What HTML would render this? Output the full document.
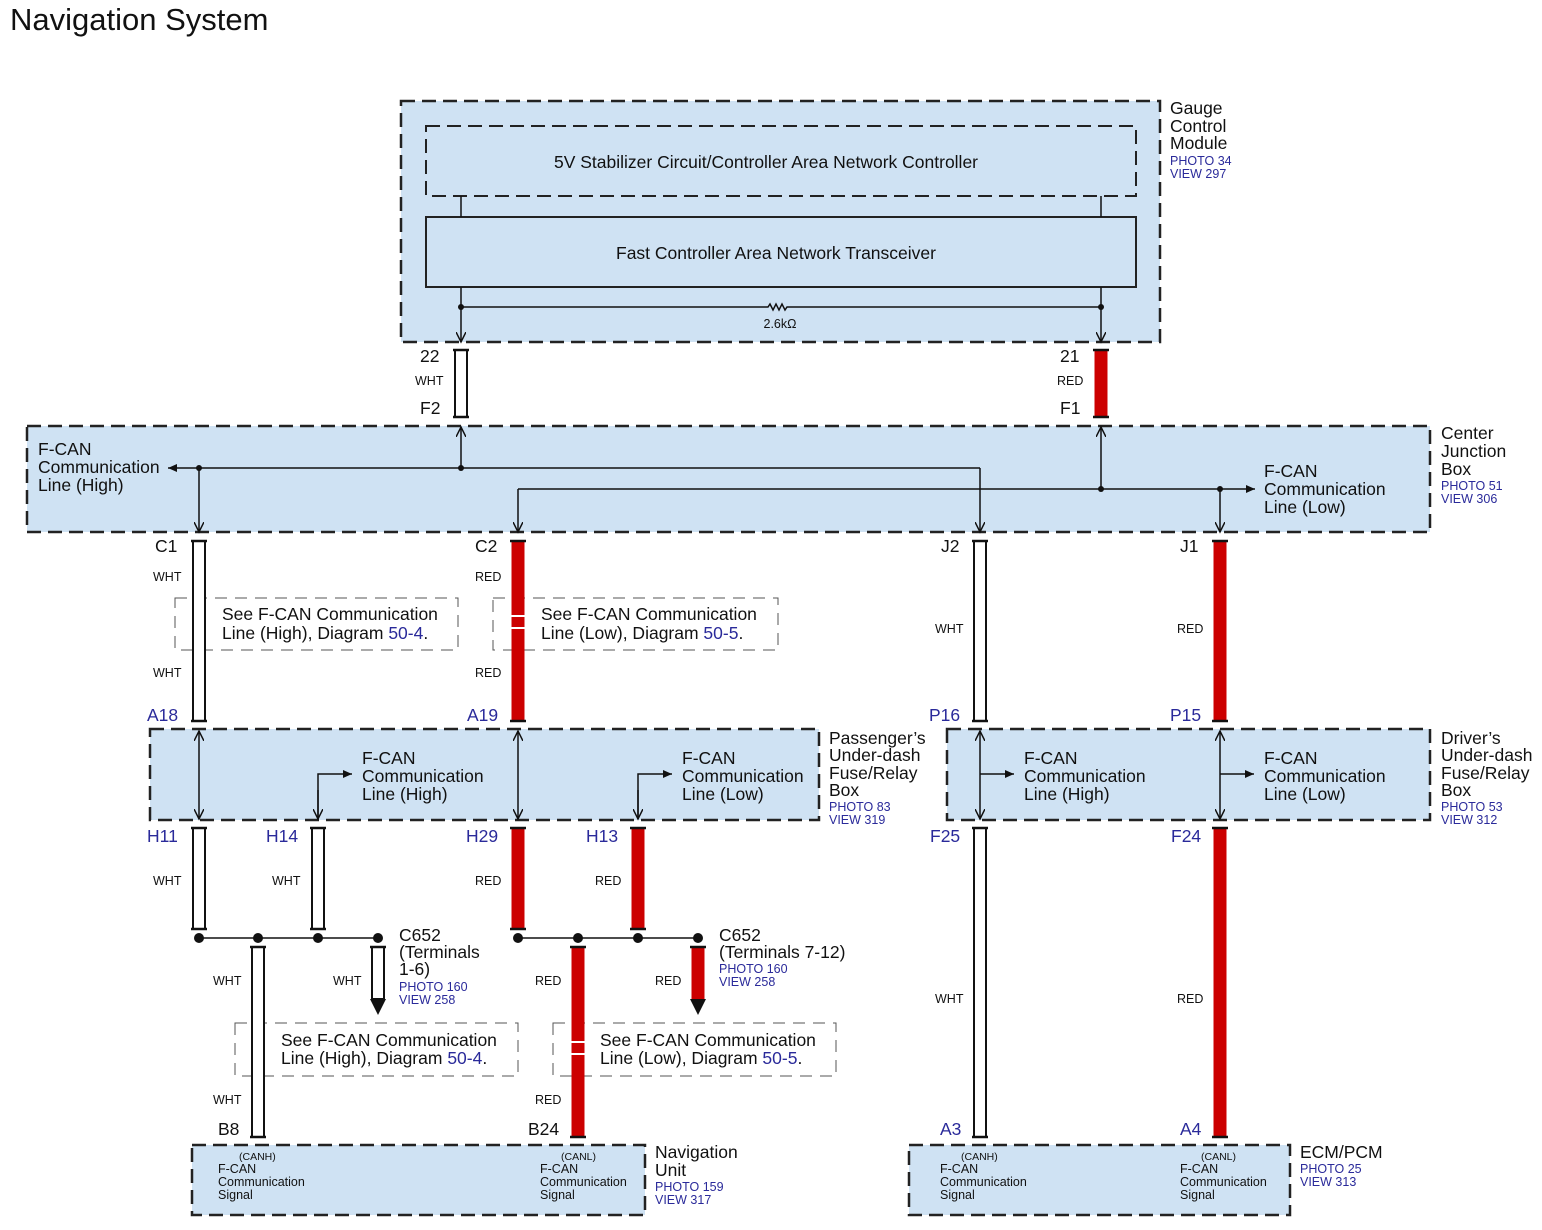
<!DOCTYPE html>
<html><head><meta charset="utf-8"><style>
html,body{margin:0;padding:0;background:#fff}
svg{display:block}
text{font-family:"Liberation Sans",Arial,sans-serif;fill:#111}
.t{font-size:17.5px}
.s{font-size:12.5px}
.b{fill:#2a2a9a}
.box{fill:#cfe2f3;stroke:#222;stroke-width:2.5;stroke-dasharray:14 7}
.note{fill:none;stroke:#555;stroke-width:1;stroke-dasharray:12 8}
.ln{stroke:#111;stroke-width:1.5;fill:none}
.ww{fill:#fff;stroke:#111;stroke-width:2}
.rw{fill:#cc0000;stroke:#cc0000;stroke-width:1}
.cap{stroke:#111;stroke-width:2.5}
</style></head><body>
<svg width="1542" height="1230" viewBox="0 0 1542 1230" xmlns="http://www.w3.org/2000/svg">
<defs>
<marker id="a" markerWidth="10" markerHeight="10" refX="9" refY="5" orient="auto" markerUnits="userSpaceOnUse"><path d="M0,1 L9,5 L0,9 z" fill="#111"/></marker>
<marker id="o" markerWidth="12" markerHeight="10" refX="10" refY="5" orient="auto" markerUnits="userSpaceOnUse"><path d="M0,0 L10,5 L0,10" fill="none" stroke="#111" stroke-width="1.5"/></marker>
</defs>
<text x="10" y="30" style="font-size:31px">Navigation System</text>

<rect class="box" x="401" y="101" width="759" height="241"/>
<rect x="426" y="126" width="710" height="70" fill="none" stroke="#222" stroke-width="2" stroke-dasharray="14 7"/>
<text class="t" x="766" y="168" text-anchor="middle">5V Stabilizer Circuit/Controller Area Network Controller</text>
<rect x="426" y="217" width="710" height="70" fill="none" stroke="#222" stroke-width="2"/>
<text class="t" x="776" y="259" text-anchor="middle">Fast Controller Area Network Transceiver</text>
<line class="ln" x1="461" y1="196" x2="461" y2="217"/><line class="ln" x1="1101" y1="196" x2="1101" y2="217"/>
<line class="ln" x1="461" y1="287" x2="461" y2="342" marker-end="url(#o)"/>
<line class="ln" x1="1101" y1="287" x2="1101" y2="342" marker-end="url(#o)"/>
<path class="ln" d="M461,307 H768 l2,-3 l3,6 l3,-6 l3,6 l3,-6 l3,6 l2,-3 H1101"/>
<circle cx="461" cy="307" r="3" fill="#111"/><circle cx="1101" cy="307" r="3" fill="#111"/>
<text class="s" x="780" y="328" text-anchor="middle">2.6kΩ</text>
<text class="t" x="1170" y="114">Gauge</text><text class="t" x="1170" y="132">Control</text><text class="t" x="1170" y="149">Module</text>
<text class="s b" x="1170" y="165">PHOTO 34</text><text class="s b" x="1170" y="178">VIEW 297</text>

<rect class="ww" x="455" y="350" width="12" height="67"/><line class="cap" x1="453" y1="350" x2="469" y2="350"/><line class="cap" x1="453" y1="417" x2="469" y2="417"/>
<rect class="rw" x="1095" y="350" width="12" height="67"/><line class="cap" x1="1093" y1="350" x2="1109" y2="350"/><line class="cap" x1="1093" y1="417" x2="1109" y2="417"/>
<text class="t" x="420" y="362">22</text><text class="s" x="415" y="385">WHT</text><text class="t" x="420" y="414">F2</text>
<text class="t" x="1060" y="362">21</text><text class="s" x="1057" y="385">RED</text><text class="t" x="1060" y="414">F1</text>

<rect class="box" x="27" y="426" width="1403" height="106"/>
<line class="ln" x1="461" y1="468" x2="461" y2="427" marker-end="url(#o)"/>
<line class="ln" x1="1101" y1="489" x2="1101" y2="427" marker-end="url(#o)"/>
<line class="ln" x1="980" y1="468" x2="168" y2="468" marker-end="url(#a)"/>
<line class="ln" x1="199" y1="468" x2="199" y2="532" marker-end="url(#o)"/>
<line class="ln" x1="980" y1="468" x2="980" y2="532" marker-end="url(#o)"/>
<line class="ln" x1="518" y1="489" x2="1255" y2="489" marker-end="url(#a)"/>
<line class="ln" x1="518" y1="489" x2="518" y2="532" marker-end="url(#o)"/>
<line class="ln" x1="1220" y1="489" x2="1220" y2="532" marker-end="url(#o)"/>
<circle cx="199" cy="468" r="3" fill="#111"/><circle cx="461" cy="468" r="3" fill="#111"/>
<circle cx="1101" cy="489" r="3" fill="#111"/><circle cx="1220" cy="489" r="3" fill="#111"/>
<text class="t" x="38" y="455">F-CAN</text><text class="t" x="38" y="473">Communication</text><text class="t" x="38" y="491">Line (High)</text>
<text class="t" x="1264" y="477">F-CAN</text><text class="t" x="1264" y="495">Communication</text><text class="t" x="1264" y="513">Line (Low)</text>
<text class="t" x="1441" y="439">Center</text><text class="t" x="1441" y="457">Junction</text><text class="t" x="1441" y="475">Box</text>
<text class="s b" x="1441" y="490">PHOTO 51</text><text class="s b" x="1441" y="503">VIEW 306</text>

<rect class="note" x="175" y="598" width="283" height="52"/>
<rect class="note" x="493" y="598" width="285" height="52"/>
<rect class="ww" x="193" y="541" width="12" height="180"/><line class="cap" x1="191" y1="541" x2="207" y2="541"/><line class="cap" x1="191" y1="721" x2="207" y2="721"/>
<rect class="rw" x="512" y="541" width="12" height="180"/><line class="cap" x1="510" y1="541" x2="526" y2="541"/><line class="cap" x1="510" y1="721" x2="526" y2="721"/>
<line x1="510" y1="616" x2="526" y2="616" stroke="#fff" stroke-width="2"/><line x1="510" y1="628" x2="526" y2="628" stroke="#fff" stroke-width="2"/>
<rect class="ww" x="974" y="541" width="12" height="180"/><line class="cap" x1="972" y1="541" x2="988" y2="541"/><line class="cap" x1="972" y1="721" x2="988" y2="721"/>
<rect class="rw" x="1214" y="541" width="12" height="180"/><line class="cap" x1="1212" y1="541" x2="1228" y2="541"/><line class="cap" x1="1212" y1="721" x2="1228" y2="721"/>
<text class="t" x="222" y="620">See F-CAN Communication</text><text class="t" x="222" y="639">Line (High),  Diagram  <tspan class="b">50-4</tspan>.</text>
<text class="t" x="541" y="620">See F-CAN Communication</text><text class="t" x="541" y="639">Line (Low),  Diagram  <tspan class="b">50-5</tspan>.</text>
<text class="t" x="155" y="552">C1</text><text class="s" x="153" y="581">WHT</text><text class="s" x="153" y="677">WHT</text><text class="t b" x="147" y="721">A18</text>
<text class="t" x="475" y="552">C2</text><text class="s" x="475" y="581">RED</text><text class="s" x="475" y="677">RED</text><text class="t b" x="467" y="721">A19</text>
<text class="t" x="941" y="552">J2</text><text class="s" x="935" y="633">WHT</text><text class="t b" x="929" y="721">P16</text>
<text class="t" x="1180" y="552">J1</text><text class="s" x="1177" y="633">RED</text><text class="t b" x="1170" y="721">P15</text>

<rect class="box" x="150" y="729" width="669" height="91"/>
<line class="ln" x1="199" y1="775" x2="199" y2="731" marker-end="url(#o)"/><line class="ln" x1="199" y1="775" x2="199" y2="819" marker-end="url(#o)"/>
<line class="ln" x1="518" y1="775" x2="518" y2="731" marker-end="url(#o)"/><line class="ln" x1="518" y1="775" x2="518" y2="819" marker-end="url(#o)"/>
<path class="ln" d="M318,819 V774 H352" marker-end="url(#a)"/><line class="ln" x1="318" y1="790" x2="318" y2="819" marker-end="url(#o)"/>
<path class="ln" d="M638,819 V774 H672" marker-end="url(#a)"/><line class="ln" x1="638" y1="790" x2="638" y2="819" marker-end="url(#o)"/>
<text class="t" x="362" y="764">F-CAN</text><text class="t" x="362" y="782">Communication</text><text class="t" x="362" y="800">Line (High)</text>
<text class="t" x="682" y="764">F-CAN</text><text class="t" x="682" y="782">Communication</text><text class="t" x="682" y="800">Line (Low)</text>
<text class="t" x="829" y="744">Passenger’s</text><text class="t" x="829" y="761">Under-dash</text><text class="t" x="829" y="779">Fuse/Relay</text><text class="t" x="829" y="796">Box</text>
<text class="s b" x="829" y="811">PHOTO 83</text><text class="s b" x="829" y="824">VIEW 319</text>

<rect class="box" x="947" y="729" width="483" height="91"/>
<line class="ln" x1="980" y1="775" x2="980" y2="731" marker-end="url(#o)"/><line class="ln" x1="980" y1="775" x2="980" y2="819" marker-end="url(#o)"/>
<line class="ln" x1="1220" y1="775" x2="1220" y2="731" marker-end="url(#o)"/><line class="ln" x1="1220" y1="775" x2="1220" y2="819" marker-end="url(#o)"/>
<line class="ln" x1="980" y1="774" x2="1014" y2="774" marker-end="url(#a)"/><line class="ln" x1="1220" y1="774" x2="1254" y2="774" marker-end="url(#a)"/>
<text class="t" x="1024" y="764">F-CAN</text><text class="t" x="1024" y="782">Communication</text><text class="t" x="1024" y="800">Line (High)</text>
<text class="t" x="1264" y="764">F-CAN</text><text class="t" x="1264" y="782">Communication</text><text class="t" x="1264" y="800">Line (Low)</text>
<text class="t" x="1441" y="744">Driver’s</text><text class="t" x="1441" y="761">Under-dash</text><text class="t" x="1441" y="779">Fuse/Relay</text><text class="t" x="1441" y="796">Box</text>
<text class="s b" x="1441" y="811">PHOTO 53</text><text class="s b" x="1441" y="824">VIEW 312</text>

<text class="t b" x="147" y="842">H11</text><text class="t b" x="266" y="842">H14</text><text class="t b" x="466" y="842">H29</text><text class="t b" x="586" y="842">H13</text>
<text class="t b" x="930" y="842">F25</text><text class="t b" x="1171" y="842">F24</text>
<rect class="ww" x="193" y="828" width="12" height="101"/><line class="cap" x1="191" y1="828" x2="207" y2="828"/><line class="cap" x1="191" y1="929" x2="207" y2="929"/>
<rect class="ww" x="312" y="828" width="12" height="101"/><line class="cap" x1="310" y1="828" x2="326" y2="828"/><line class="cap" x1="310" y1="929" x2="326" y2="929"/>
<rect class="rw" x="512" y="828" width="12" height="101"/><line class="cap" x1="510" y1="828" x2="526" y2="828"/><line class="cap" x1="510" y1="929" x2="526" y2="929"/>
<rect class="rw" x="632" y="828" width="12" height="101"/><line class="cap" x1="630" y1="828" x2="646" y2="828"/><line class="cap" x1="630" y1="929" x2="646" y2="929"/>
<text class="s" x="153" y="885">WHT</text><text class="s" x="272" y="885">WHT</text><text class="s" x="475" y="885">RED</text><text class="s" x="595" y="885">RED</text>

<line class="ln" x1="199" y1="938" x2="378" y2="938"/><line class="ln" x1="518" y1="938" x2="698" y2="938"/>
<circle cx="199" cy="938" r="5" fill="#111"/><circle cx="258" cy="938" r="5" fill="#111"/><circle cx="318" cy="938" r="5" fill="#111"/><circle cx="378" cy="938" r="5" fill="#111"/>
<circle cx="518" cy="938" r="5" fill="#111"/><circle cx="578" cy="938" r="5" fill="#111"/><circle cx="638" cy="938" r="5" fill="#111"/><circle cx="698" cy="938" r="5" fill="#111"/>
<rect class="note" x="235" y="1023" width="283" height="53"/>
<rect class="note" x="553" y="1023" width="283" height="53"/>
<rect class="ww" x="252" y="947" width="12" height="190"/><line class="cap" x1="250" y1="947" x2="266" y2="947"/><line class="cap" x1="250" y1="1137" x2="266" y2="1137"/>
<rect class="rw" x="572" y="947" width="12" height="190"/><line class="cap" x1="570" y1="947" x2="586" y2="947"/><line class="cap" x1="570" y1="1137" x2="586" y2="1137"/>
<line x1="570" y1="1042" x2="586" y2="1042" stroke="#fff" stroke-width="2"/><line x1="570" y1="1054" x2="586" y2="1054" stroke="#fff" stroke-width="2"/>
<rect class="ww" x="372" y="947" width="12" height="52"/><line class="cap" x1="370" y1="947" x2="386" y2="947"/><path d="M370,999 H386 L378,1015 z" fill="#111"/>
<rect class="rw" x="692" y="947" width="12" height="52"/><line class="cap" x1="690" y1="947" x2="706" y2="947"/><path d="M690,999 H706 L698,1015 z" fill="#111"/>
<text class="t" x="399" y="941">C652</text><text class="t" x="399" y="958">(Terminals</text><text class="t" x="399" y="975">1-6)</text>
<text class="s b" x="399" y="991">PHOTO 160</text><text class="s b" x="399" y="1004">VIEW 258</text>
<text class="t" x="719" y="941">C652</text><text class="t" x="719" y="958">(Terminals 7-12)</text>
<text class="s b" x="719" y="973">PHOTO 160</text><text class="s b" x="719" y="986">VIEW 258</text>
<text class="s" x="213" y="985">WHT</text><text class="s" x="333" y="985">WHT</text><text class="s" x="535" y="985">RED</text><text class="s" x="655" y="985">RED</text>
<text class="t" x="281" y="1046">See F-CAN Communication</text><text class="t" x="281" y="1064">Line (High),  Diagram  <tspan class="b">50-4</tspan>.</text>
<text class="t" x="600" y="1046">See F-CAN Communication</text><text class="t" x="600" y="1064">Line (Low),  Diagram  <tspan class="b">50-5</tspan>.</text>
<text class="s" x="213" y="1104">WHT</text><text class="s" x="535" y="1104">RED</text>
<text class="t" x="218" y="1135">B8</text><text class="t" x="528" y="1135">B24</text>

<rect class="ww" x="974" y="828" width="12" height="309"/><line class="cap" x1="972" y1="828" x2="988" y2="828"/><line class="cap" x1="972" y1="1137" x2="988" y2="1137"/>
<rect class="rw" x="1214" y="828" width="12" height="309"/><line class="cap" x1="1212" y1="828" x2="1228" y2="828"/><line class="cap" x1="1212" y1="1137" x2="1228" y2="1137"/>
<text class="s" x="935" y="1003">WHT</text><text class="s" x="1177" y="1003">RED</text>
<text class="t b" x="940" y="1135">A3</text><text class="t b" x="1180" y="1135">A4</text>

<rect class="box" x="192" y="1145" width="453" height="70"/>
<text class="s" x="239" y="1160" style="font-size:10.5px">(CANH)</text>
<text class="s" x="218" y="1173">F-CAN</text><text class="s" x="218" y="1186">Communication</text><text class="s" x="218" y="1199">Signal</text>
<text class="s" x="561" y="1160" style="font-size:10.5px">(CANL)</text>
<text class="s" x="540" y="1173">F-CAN</text><text class="s" x="540" y="1186">Communication</text><text class="s" x="540" y="1199">Signal</text>
<text class="t" x="655" y="1158">Navigation</text><text class="t" x="655" y="1176">Unit</text>
<text class="s b" x="655" y="1191">PHOTO 159</text><text class="s b" x="655" y="1204">VIEW 317</text>

<rect class="box" x="909" y="1145" width="381" height="70"/>
<text class="s" x="961" y="1160" style="font-size:10.5px">(CANH)</text>
<text class="s" x="940" y="1173">F-CAN</text><text class="s" x="940" y="1186">Communication</text><text class="s" x="940" y="1199">Signal</text>
<text class="s" x="1201" y="1160" style="font-size:10.5px">(CANL)</text>
<text class="s" x="1180" y="1173">F-CAN</text><text class="s" x="1180" y="1186">Communication</text><text class="s" x="1180" y="1199">Signal</text>
<text class="t" x="1300" y="1158">ECM/PCM</text>
<text class="s b" x="1300" y="1173">PHOTO 25</text><text class="s b" x="1300" y="1186">VIEW 313</text>
</svg>
</body></html>
